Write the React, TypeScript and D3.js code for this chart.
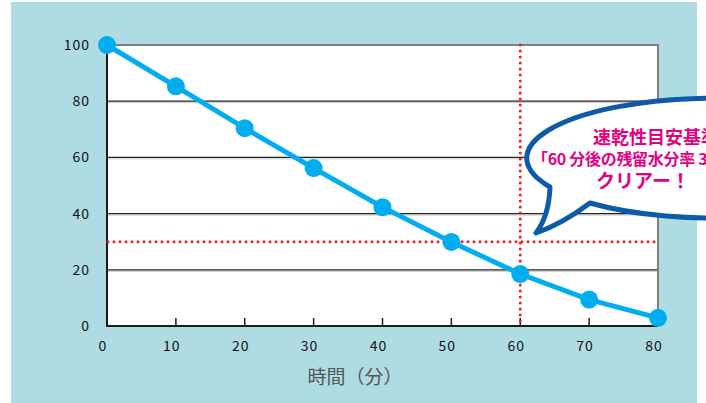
import React, { useEffect, useRef } from "react";
import * as d3 from "d3";

const minutes = [0, 10, 20, 30, 40, 50, 60, 70, 80];
const moisture = [100, 85.3, 70.4, 56.2, 42.3, 29.9, 18.5, 9.4, 2.9];
const yTicks = [0, 20, 40, 60, 80, 100];
const xTicks = [0, 10, 20, 30, 40, 50, 60, 70, 80];
const targetMinute = 60;
const targetRate = 30;
const xTitle = "時間（分）";
const bubbleLines = ["速乾性目安基準", "「60 分後の残留水分率 30%」", "クリアー！"];

const W = 706;
const H = 403;
const PLOT = { left: 107, right: 658, top: 45, bottom: 326 };
const BLUE = "#00aeef";
const RED = "#e8202a";
const PINK = "#e4007f";
const FONT = "'Noto Sans CJK JP', 'Noto Sans', sans-serif";

export default function App() {
  const svgRef = useRef<SVGSVGElement | null>(null);

  useEffect(() => {
    const svg = d3.select(svgRef.current);
    svg.selectAll("*").remove();

    const x = d3.scaleLinear().domain([0, 80]).range([PLOT.left, PLOT.right]);
    const y = d3.scaleLinear().domain([0, 100]).range([PLOT.bottom, PLOT.top]);

    // background panel
    svg.append("rect").attr("x", 11).attr("y", 2).attr("width", 686).attr("height", H)
      .attr("fill", "#aedce2");

    svg.append("rect")
      .attr("x", PLOT.left).attr("y", PLOT.top)
      .attr("width", PLOT.right - PLOT.left).attr("height", PLOT.bottom - PLOT.top)
      .attr("fill", "#fff");

    // gridlines
    const grid = yTicks.filter((t) => t > 0 && t < 100);
    svg.append("g").selectAll("line").data(grid).join("line")
      .attr("x1", PLOT.left).attr("x2", PLOT.right)
      .attr("y1", (d) => y(d) + 1.5).attr("y2", (d) => y(d) + 1.5)
      .attr("stroke", "#c8c8c8").attr("stroke-width", 1);
    svg.append("g").selectAll("line").data(grid).join("line")
      .attr("x1", PLOT.left).attr("x2", PLOT.right)
      .attr("y1", (d) => y(d)).attr("y2", (d) => y(d))
      .attr("stroke", "#222").attr("stroke-width", 1.3);

    // frame: gray top/right, black left/bottom
    svg.append("path")
      .attr("d", `M${PLOT.left},${PLOT.top}H${PLOT.right}V${PLOT.bottom}`)
      .attr("fill", "none").attr("stroke", "#808080").attr("stroke-width", 2);
    svg.append("path")
      .attr("d", `M${PLOT.left},${PLOT.top}V${PLOT.bottom}H${PLOT.right}`)
      .attr("fill", "none").attr("stroke", "#1a1a1a").attr("stroke-width", 2);

    // x ticks inside
    svg.append("g").selectAll("line").data(xTicks.filter((t) => t > 0)).join("line")
      .attr("x1", (d) => x(d)).attr("x2", (d) => x(d))
      .attr("y1", PLOT.bottom - 8).attr("y2", PLOT.bottom)
      .attr("stroke", "#1a1a1a").attr("stroke-width", 1.5);

    // tick labels
    svg.append("g").selectAll("text").data(yTicks).join("text")
      .attr("x", 90).attr("y", (d) => y(d) + 5)
      .attr("text-anchor", "end")
      .style("font-family", FONT).style("font-size", "14px").style("letter-spacing", "1px")
      .attr("fill", "#111")
      .text((d) => d);
    svg.append("g").selectAll("text").data(xTicks).join("text")
      .attr("x", (d) => x(d) - 4).attr("y", 351)
      .attr("text-anchor", "middle")
      .style("font-family", FONT).style("font-size", "14px").style("letter-spacing", "1px")
      .attr("fill", "#111")
      .text((d) => d);

    svg.append("text")
      .attr("x", 355).attr("y", 384).attr("text-anchor", "middle")
      .style("font-family", FONT).style("font-size", "19px")
      .attr("fill", "#555")
      .text(xTitle);

    // red dotted guides
    svg.append("line")
      .attr("x1", PLOT.left + 1).attr("x2", PLOT.right)
      .attr("y1", y(targetRate)).attr("y2", y(targetRate))
      .attr("stroke", RED).attr("stroke-width", 3)
      .attr("stroke-dasharray", "0 6").attr("stroke-linecap", "round");
    svg.append("line")
      .attr("x1", x(targetMinute)).attr("x2", x(targetMinute))
      .attr("y1", PLOT.top).attr("y2", PLOT.bottom)
      .attr("stroke", RED).attr("stroke-width", 3)
      .attr("stroke-dasharray", "0 6").attr("stroke-linecap", "round");

    // series
    const pts: [number, number][] = minutes.map((m, i) => [x(m), y(moisture[i])]);
    svg.append("path")
      .attr("d", d3.line()(pts)!)
      .attr("fill", "none").attr("stroke", BLUE).attr("stroke-width", 5)
      .attr("stroke-linejoin", "round");
    svg.append("g").selectAll("circle").data(pts).join("circle")
      .attr("cx", (d) => d[0]).attr("cy", (d) => d[1]).attr("r", 9)
      .attr("fill", BLUE);

    // speech bubble
    svg.append("path")
      .attr("d", "M550,187 Q549,216 536,233 Q562,224 590,203 A188 60 0 1 0 550,187 Z")
      .attr("fill", "#fff").attr("stroke", "#0d5aa7").attr("stroke-width", 5)
      .attr("stroke-linejoin", "round");

    const bub = svg.append("g").attr("fill", PINK).style("font-family", FONT)
      .style("font-weight", "700");
    bub.append("text").attr("x", 593).attr("y", 144).style("font-size", "18px")
      .text(bubbleLines[0]);
    bub.append("text").attr("x", 532).attr("y", 165).style("font-size", "16px")
      .style("letter-spacing", "-0.3px")
      .text(bubbleLines[1]);
    bub.append("text").attr("x", 643).attr("y", 188).attr("text-anchor", "middle")
      .style("font-size", "19px")
      .text(bubbleLines[2]);
  }, []);

  return (
    <svg
      ref={svgRef}
      width={W}
      height={H}
      style={{ position: "absolute", left: 0, top: 0, display: "block", background: "#fff" }}
    />
  );
}
